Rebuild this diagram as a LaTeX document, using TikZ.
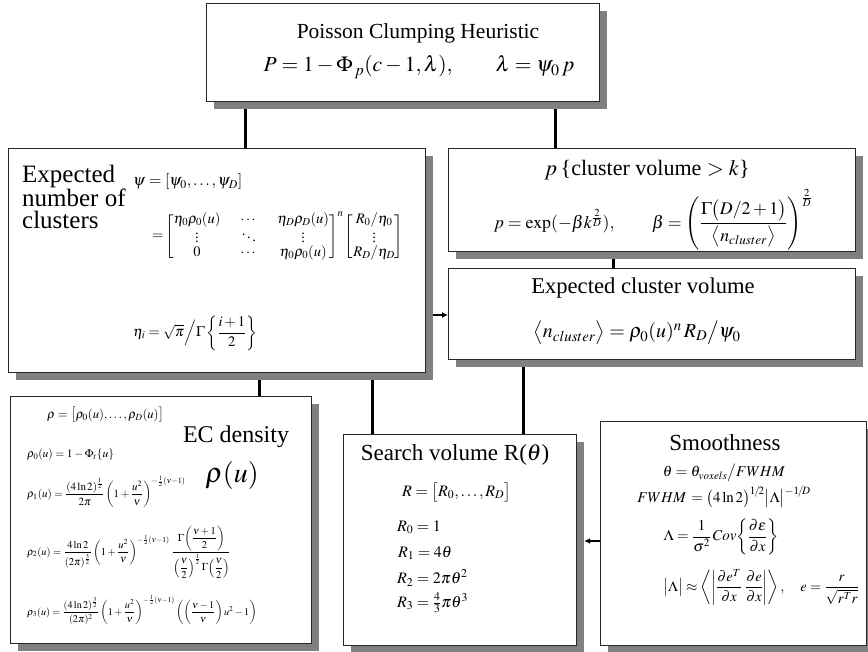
\documentclass[tikz,border=0pt]{standalone}
\usepackage{amsmath}
\usepackage[no-math]{fontspec}
\usepackage{mathptmx}
\setmainfont{Liberation Serif}
\usetikzlibrary{shadows,backgrounds,calc,arrows.meta}
\newcommand{\fz}[2]{\fontsize{#1}{#2}\selectfont}
\begin{document}
\begin{tikzpicture}[x=1pt,y=-1pt,
  box/.style={draw=black!85,line width=1.2pt,fill=white,inner sep=0pt,anchor=north west,
    drop shadow={shadow xshift=7pt,shadow yshift=-7pt,fill=black!50,opacity=1}},
  conn/.style={line width=3pt,black},
  arr/.style={line width=1.8pt,black,-{Latex[length=6pt,width=6pt]}},
  txt/.style={inner sep=0pt}]
\useasboundingbox (0,0) rectangle (868,652);
% boxes
\node[box,minimum width=393pt,minimum height=98pt] (top) at (206,3) {};
\node[box,minimum width=417pt,minimum height=224pt] (expnum) at (8,148) {};
\node[box,minimum width=407pt,minimum height=103pt] (pbox) at (448,148) {};
\node[box,minimum width=407pt,minimum height=91pt] (ecv) at (448,268) {};
\node[box,minimum width=301pt,minimum height=247pt] (ec) at (10,396) {};
\node[box,minimum width=233pt,minimum height=211pt] (search) at (343,434) {};
\node[box,minimum width=266pt,minimum height=224pt] (smooth) at (600,421) {};
% connector guides
\coordinate (x1) at (245,0);
\coordinate (x2) at (555,0);
\coordinate (x3) at (613,0);
\coordinate (x4) at (259,0);
\coordinate (x5) at (372,0);
\coordinate (x6) at (523,0);
\coordinate (y1) at (0,315);
\coordinate (y2) at (0,541);
\begin{pgfonlayer}{background}
\draw[conn] (top.south -| x1) -- (expnum.north -| x1);
\draw[conn] (top.south -| x2) -- (pbox.north -| x2);
\draw[conn] (pbox.south -| x3) -- (ecv.north -| x3);
\draw[conn] (expnum.south -| x4) -- (ec.north -| x4);
\draw[conn] (expnum.south -| x5) -- (search.north -| x5);
\draw[conn] (ecv.south -| x6) -- (search.north -| x6);
\draw[arr] (expnum.east |- y1) -- (ecv.west |- y1);
\draw[arr] (smooth.west |- y2) -- ($(search.east |- y2)+(7,0)$);
\end{pgfonlayer}
% top box
\node[txt,font=\fz{21.5}{24}] (ttitle) at (418,33) {Poisson Clumping Heuristic};
\node[txt,font=\fz{21.5}{26}] (tform) at (419,67) {$P=1-\Phi_{\,p}(c-1,\lambda)\boldsymbol{,}\qquad \lambda=\psi_{0}\,p$};
% expected number of clusters
\node[txt,anchor=north west,align=left,font=\fz{25}{22}] (entitle) at (22,165) {Expected\\number of\\clusters};
\node[txt,anchor=west,font=\fz{16}{18}] (psi) at (133,182) {$\psi=[\psi_{0},\ldots,\psi_{D}]$};
\node[txt,anchor=west,font=\fz{14.5}{15}] (mat) at (152,236) {\setlength{\arraycolsep}{10pt}\renewcommand{\arraystretch}{0.8}$=\!\begin{bmatrix}\eta_0\rho_0(u) & \cdots & \eta_D\rho_D(u)\\ \vdots & \ddots & \vdots\\ 0 & \cdots & \eta_0\rho_0(u)\end{bmatrix}^{n}\begin{bmatrix}R_0/\eta_0\\ \vdots\\ R_D/\eta_D\end{bmatrix}$};
\node[txt,anchor=west,font=\fz{14.5}{16}] (eta) at (133,333) {$\eta_i=\sqrt{\pi}\Big/\Gamma\left\{\dfrac{i+1}{2}\right\}$};
% p box
\node[txt,font=\fz{22}{24}] (ptitle) at (647,170) {$p$\,\{cluster volume $>k$\}};
\node[txt,font=\fz{17.8}{20}] (pform) at (653,220) {$p=\exp(-\beta k^{\frac{2}{D}}),\qquad \beta=\left(\dfrac{\Gamma\big(D/2+1\big)}{\big\langle n_{cluster}\big\rangle}\right)^{\frac{2}{D}}$};
% expected cluster volume
\node[txt,font=\fz{22.6}{25}] (ecvtitle) at (643,288) {Expected cluster volume};
\node[txt,font=\fz{20}{22}] (ecvform) at (637,333) {$\big\langle n_{cluster}\big\rangle=\rho_0(u)^{n}\,R_D\big/\psi_0$};
% EC density
\node[txt,font=\fz{24}{26}] (ectitle) at (236,437) {EC density};
\node[txt,font=\fz{28}{30}] (ecrho) at (232,475) {$\rho(u)$};
\node[txt,anchor=west,font=\fz{12.6}{14}] (r) at (47,415) {$\rho=\big[\rho_0(u),\ldots,\rho_D(u)\big]$};
\node[txt,anchor=west,font=\fz{11.5}{13}] (r0) at (27,455) {$\rho_0(u)=1-\Phi_t\{u\}$};
\node[txt,anchor=west,font=\fz{11}{13}] (r1) at (27,492) {$\rho_1(u)=\dfrac{(4\ln 2)^{\frac12}}{2\pi}\left(1+\dfrac{u^2}{\nu}\right)^{-\frac12(\nu-1)}$};
\node[txt,anchor=west,font=\fz{10.5}{13}] (r2) at (27,552) {$\rho_2(u)=\dfrac{4\ln 2}{(2\pi)^{\frac32}}\left(1+\dfrac{u^2}{\nu}\right)^{-\frac12(\nu-1)}\,\dfrac{\Gamma\!\left(\dfrac{\nu+1}{2}\right)}{\left(\dfrac{\nu}{2}\right)^{\frac12}\Gamma\!\left(\dfrac{\nu}{2}\right)}$};
\node[txt,anchor=west,font=\fz{10.2}{13}] (r3) at (27,610) {$\rho_3(u)=\dfrac{(4\ln 2)^{\frac32}}{(2\pi)^{2}}\left(1+\dfrac{u^2}{\nu}\right)^{-\frac12(\nu-1)}\left(\left(\dfrac{\nu-1}{\nu}\right)u^2-1\right)$};
% search volume
\node[txt,font=\fz{23}{25}] (stitle) at (455,455) {Search volume R($\theta$)};
\node[txt,anchor=west,font=\fz{16}{18}] (R) at (402,492) {$R=\big[R_0,\ldots,R_D\big]$};
\node[txt,anchor=west,font=\fz{16}{18}] (R0) at (397,527) {$R_0=1$};
\node[txt,anchor=west,font=\fz{16}{18}] (R1) at (398,553) {$R_1=4\theta$};
\node[txt,anchor=west,font=\fz{16}{18}] (R2) at (397,578) {$R_2=2\pi\theta^{2}$};
\node[txt,anchor=west,font=\fz{16}{18}] (R3) at (397,603) {$R_3=\tfrac{4}{3}\pi\theta^{3}$};
% smoothness
\node[txt,font=\fz{23}{25}] (smtitle) at (725,443) {Smoothness};
\node[txt,font=\fz{15}{17}] (sm1) at (724,473) {$\theta=\theta_{voxels}\big/FWHM$};
\node[txt,font=\fz{15}{17}] (sm2) at (724,497) {$FWHM\,=\big(4\ln 2\big)^{1\!/\!2}\big|\Lambda\big|^{-1\!/\!D}$};
\node[txt,font=\fz{15}{17}] (sm3) at (721,537) {$\Lambda=\dfrac{1}{\sigma^{2}}\,Cov\!\left\{\dfrac{\partial\varepsilon}{\partial x}\right\}$};
\node[txt,font=\fz{14.5}{17}] (sm4) at (761,587) {$\big|\Lambda\big|\approx\left\langle\left|\dfrac{\partial e^{T}}{\partial x}\;\dfrac{\partial e}{\partial x}\right|\right\rangle,\quad e=\dfrac{r}{\sqrt{r^{T}r}}$};
\end{tikzpicture}
\end{document}
